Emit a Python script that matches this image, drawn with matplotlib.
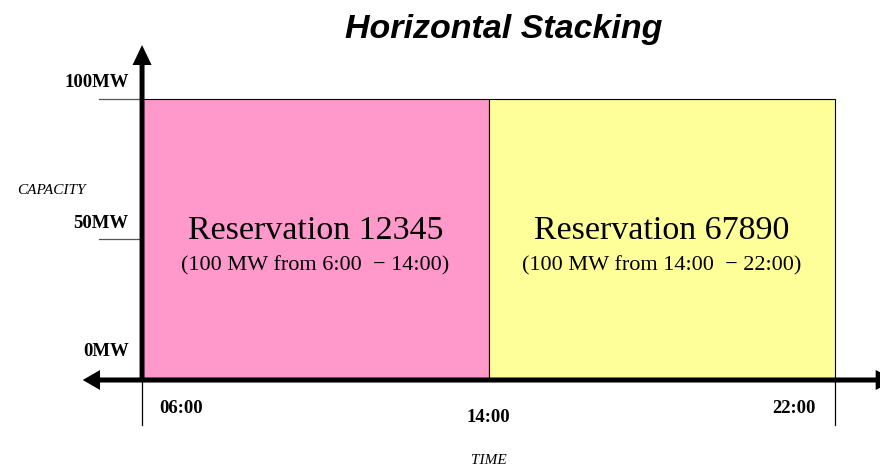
import matplotlib
matplotlib.use("Agg")
import matplotlib.pyplot as plt

# reservations: start hour, end hour, capacity (MW)
res_names = ["Reservation 12345", "Reservation 67890"]
res_notes = ["(100 MW from 6:00  \u2212 14:00)", "(100 MW from 14:00  \u2212 22:00)"]
res_start = [6, 14]
res_end = [14, 22]
res_mw = [100, 100]
res_colors = ["#FF99CC", "#FFFF99"]

y_ticks = [0, 50, 100]
y_labels = ["0MW", "50MW", "100MW"]
x_ticks = [6, 14, 22]
x_labels = ["06:00", "14:00", "22:00"]

serif = "Liberation Serif"
sans = "Liberation Sans"

fig = plt.figure(figsize=(8.8, 4.67), dpi=100)
ax = fig.add_axes([0, 0, 1, 1])
ax.set_xlim(2.72, 23.04)
ax.set_ylim(-30.96, 135.23)
ax.axis("off")

widths = [e - s for s, e in zip(res_start, res_end)]
ax.bar(res_start, res_mw, width=widths, align="edge", color=res_colors,
       edgecolor="black", linewidth=0.8, zorder=1)

for s, w, mw, name, note in zip(res_start, widths, res_mw, res_names, res_notes):
    cx = s + w / 2
    ax.text(cx, mw * 0.53, name, family=serif, fontsize=24.5, ha="center", va="center")
    ax.text(cx, mw * 0.405, note, family=serif, fontsize=16, ha="center", va="center")

# y tick lines and labels
y_offsets = [10, 5.7, 6]
for yv, lab, dy in zip(y_ticks, y_labels, y_offsets):
    if yv > 0:
        ax.plot([5.0, 6], [yv, yv], color="#555555", lw=0.9, zorder=2)
    ax.text(5.69, yv + dy, lab, family=serif, fontweight="bold", fontsize=13.5,
            ha="right", va="center")

# x tick lines and labels
for xv in [x_ticks[0], x_ticks[-1]]:
    ax.plot([xv, xv], [0, -16], color="black", lw=0.9, zorder=2)
x_offsets = [0.9, 0, -0.95]
x_ylevels = [-10.3, -13.5, -10.3]
for xv, lab, dx, yl in zip(x_ticks, x_labels, x_offsets, x_ylevels):
    ax.text(xv + dx, yl, lab, family=serif, fontweight="bold", fontsize=13.5,
            ha="center", va="center")

# axis arrows (sharp filled heads)
ax.arrow(6, 0, 0, 119.2, width=0.115, head_width=0.44, head_length=7.1,
         length_includes_head=True, color="black", lw=0, zorder=3)
ax.arrow(6, 0, -1.37, 0, width=1.8, head_width=7.1, head_length=0.4,
         length_includes_head=True, color="black", lw=0, zorder=3)
ax.arrow(6, 0, 17.4, 0, width=1.8, head_width=7.1, head_length=0.46,
         length_includes_head=True, color="black", lw=0, zorder=3)

ax.text(3.9, 67.6, "CAPACITY", family=serif, style="italic", fontsize=11,
        ha="center", va="center")
ax.text(14, -28.6, "TIME", family=serif, style="italic", fontsize=11,
        ha="center", va="center")

fig.text(0.572, 0.937, "Horizontal Stacking", family=sans, fontweight="bold",
         style="italic", fontsize=24.5, ha="center", va="center")

fig.savefig("out.png", dpi=100)
